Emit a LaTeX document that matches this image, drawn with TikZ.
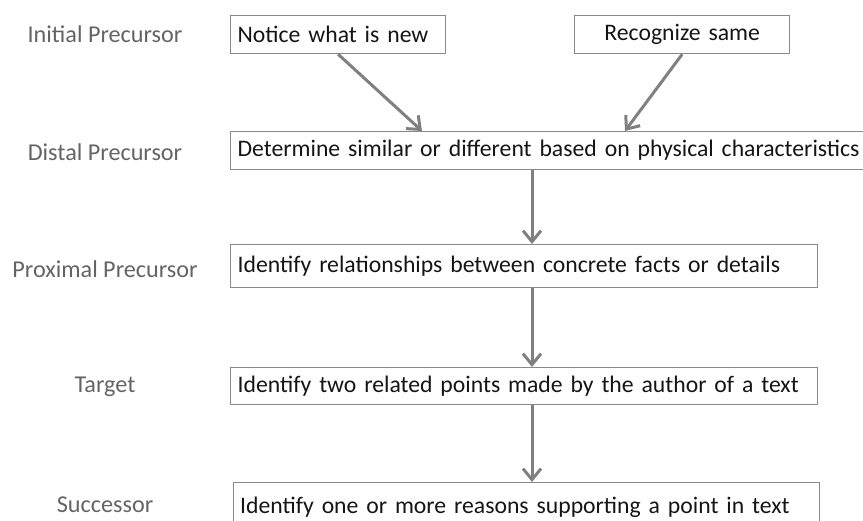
\documentclass[tikz,border=0pt]{standalone}
\usepackage{fontspec}
\setmainfont{Carlito}
\usetikzlibrary{arrows.meta}

\definecolor{boxgray}{HTML}{8A8A8A}
\definecolor{arrowgray}{HTML}{808080}
\definecolor{labelgray}{HTML}{646464}
\definecolor{textblack}{HTML}{151515}

\tikzset{
    box/.style={draw=boxgray, line width=1.3pt, anchor=north west, inner xsep=7pt, inner ysep=0pt,
        align=left, text=textblack, font=\fontsize{23.7}{27}\selectfont},
    stage/.style={text=labelgray, font=\fontsize{24.2}{28}\selectfont},
    arr/.style={draw=arrowgray, line width=3pt, -{Straight Barb[length=11pt,width=18pt]}}
}

\begin{document}
\begin{tikzpicture}[x=1pt, y=-1pt]
        \clip (0,0) rectangle (863,521);

        % Stupně vlevo
        \node[stage] (sInit) at (105,34) {Initial Precursor};
        \node[stage] (sDist) at (105,152) {Distal Precursor};
        \node[stage] (sProx) at (105,269) {Proximal Precursor};
        \node[stage] (sTarg) at (105,387) {Target};
        \node[stage] (sSucc) at (105,505) {Successor};

        % Boxy s dovednostmi
        \node[box, text width=201pt, minimum height=38pt] (notice) at (230,15) {Notice what is new};
        \node[box, align=center, text width=201pt, minimum height=38pt] (recog) at (574,15) {Recognize same};
        \node[box, text width=622pt, minimum height=38pt] (det) at (230,131) {Determine similar or different based on physical characteristics};
        \node[box, text width=573pt, minimum height=43pt] (rel) at (230,244) {Identify relationships between concrete facts or details};
        \node[box, text width=573pt, minimum height=37pt] (two) at (230,367) {Identify two related points made by the author of a text};
        \node[box, text width=572pt, minimum height=50pt] (succ) at (232.5,482) {Identify one or more reasons supporting a point in text};

        % Pomocné body pro šipky
        \coordinate (a1) at (422,0);
        \coordinate (a2) at (625,0);
        \coordinate (col) at (532,0);

        % Šipky
        \draw[arr] (notice.south) -- (det.north -| a1);
        \draw[arr] (recog.south) -- (det.north -| a2);
        \draw[arr] (det.south -| col) -- (rel.north -| col);
        \draw[arr] (rel.south -| col) -- (two.north -| col);
        \draw[arr] (two.south -| col) -- (succ.north -| col);
    \end{tikzpicture}
\end{document}
